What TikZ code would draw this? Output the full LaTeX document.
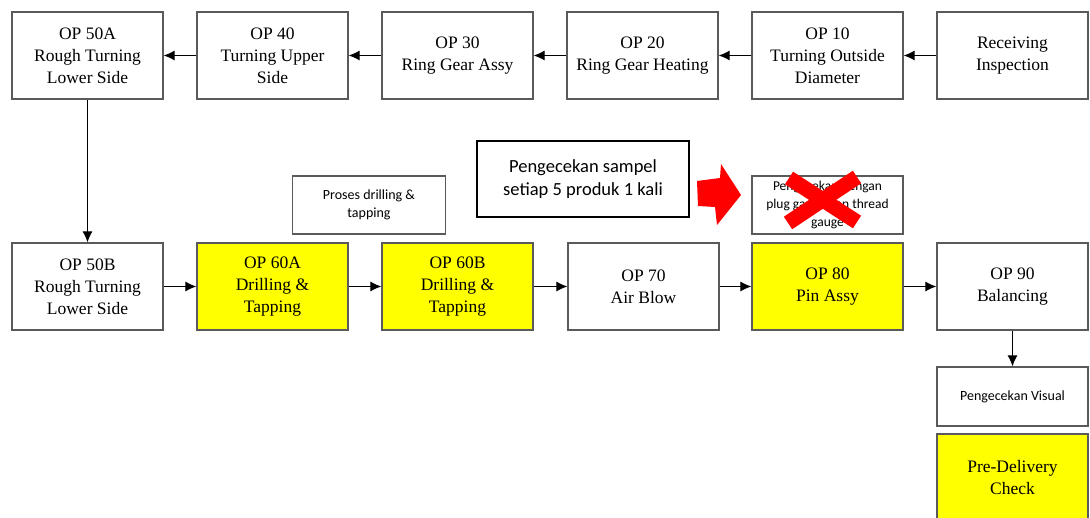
\documentclass[tikz,border=0pt]{standalone}
\usepackage{fontspec}
\setmainfont{Liberation Serif}
\newfontfamily\opfont{Liberation Serif}
\newfontfamily\notefont{Carlito}
\usetikzlibrary{arrows.meta}
\definecolor{boxline}{HTML}{5A5A5A}
\definecolor{opyellow}{HTML}{FFFF00}
\tikzset{
  opbox/.style={draw=boxline, line width=1.2pt, fill=white, inner sep=0pt,
    minimum width=151pt, minimum height=87pt, align=center,
    font=\opfont\fontsize{17.5}{22}\selectfont},
  hilite/.style={fill=opyellow},
  notebox/.style={draw=boxline, line width=1.2pt, fill=white, inner sep=0pt,
    minimum height=58pt, align=center, font=\notefont\fontsize{14}{18}\selectfont},
  callout/.style={draw=black, line width=2.4pt, fill=white, inner sep=0pt,
    minimum width=212pt, minimum height=76pt, align=center,
    font=\notefont\fontsize{18.5}{23}\selectfont},
  flow/.style={line width=1.1pt, -{Latex[length=11pt,width=10pt]}}
}
\begin{document}
\begin{tikzpicture}[x=1pt,y=-1pt]
\useasboundingbox (0,0) rectangle (1090,518);

% upper line, running right to left
\node[opbox] (op50a) at (87.5,55.5) {OP 50A\\Rough Turning\\Lower Side};
\node[opbox] (op40)  at (272.5,55.5) {OP 40\\Turning Upper\\Side};
\node[opbox] (op30)  at (457.5,55.5) {OP 30\\Ring Gear Assy};
\node[opbox] (op20)  at (642.5,55.5) {OP 20\\Ring Gear Heating};
\node[opbox] (op10)  at (827.5,55.5) {OP 10\\Turning Outside\\Diameter};
\node[opbox] (recv)  at (1012.5,55.5) {Receiving\\Inspection};

% lower line, running left to right
\node[opbox] (op50b) at (87.5,286.5) {OP 50B\\Rough Turning\\Lower Side};
\node[opbox,hilite] (op60a) at (272.5,286.5) {OP 60A\\Drilling \&\\Tapping};
\node[opbox,hilite] (op60b) at (457.5,286.5) {OP 60B\\Drilling \&\\Tapping};
\node[opbox] (op70)  at (643.5,286.5) {OP 70\\Air Blow};
\node[opbox,hilite] (op80) at (827.5,286.5) {OP 80\\Pin Assy};
\node[opbox] (op90)  at (1012.5,286.5) {OP 90\\Balancing};

% checks
\node[notebox, minimum width=153pt] (drill) at (369,205) {Proses drilling \&\\tapping};
\node[notebox, minimum width=151pt, font=\notefont\fontsize{13.5}{18}\selectfont] (plug) at (827.5,205) {Pengecekan dengan\\plug gauge dan thread\\gauge};
\node[notebox, minimum width=151pt, minimum height=59pt] (visual) at (1012.5,396.5) {Pengecekan Visual};
\node[opbox,hilite, minimum height=88pt] (pdc) at (1012.5,478) {Pre-Delivery\\Check};
\node[callout] (sample) at (583,179) {Pengecekan sampel\\setiap 5 produk 1 kali};

% process flow
\draw[flow] (recv) -- (op10);
\draw[flow] (op10) -- (op20);
\draw[flow] (op20) -- (op30);
\draw[flow] (op30) -- (op40);
\draw[flow] (op40) -- (op50a);
\draw[flow] (op50a) -- (op50b);
\draw[flow] (op50b) -- (op60a);
\draw[flow] (op60a) -- (op60b);
\draw[flow] (op60b) -- (op70);
\draw[flow] (op70) -- (op80);
\draw[flow] (op80) -- (op90);
\draw[flow] (op90) -- (visual);

% red block arrow pointing at the struck-out check
\fill[red] (697,181) -- (720,178) -- (721,164) -- (741,195) -- (717,225) -- (715,207) -- (698,206) -- cycle;

% red cross over the plug gauge check
\draw[red, line width=15pt] (789,178) -- (857,222);
\draw[red, line width=15pt] (857,177) -- (788,223);
\end{tikzpicture}
\end{document}
